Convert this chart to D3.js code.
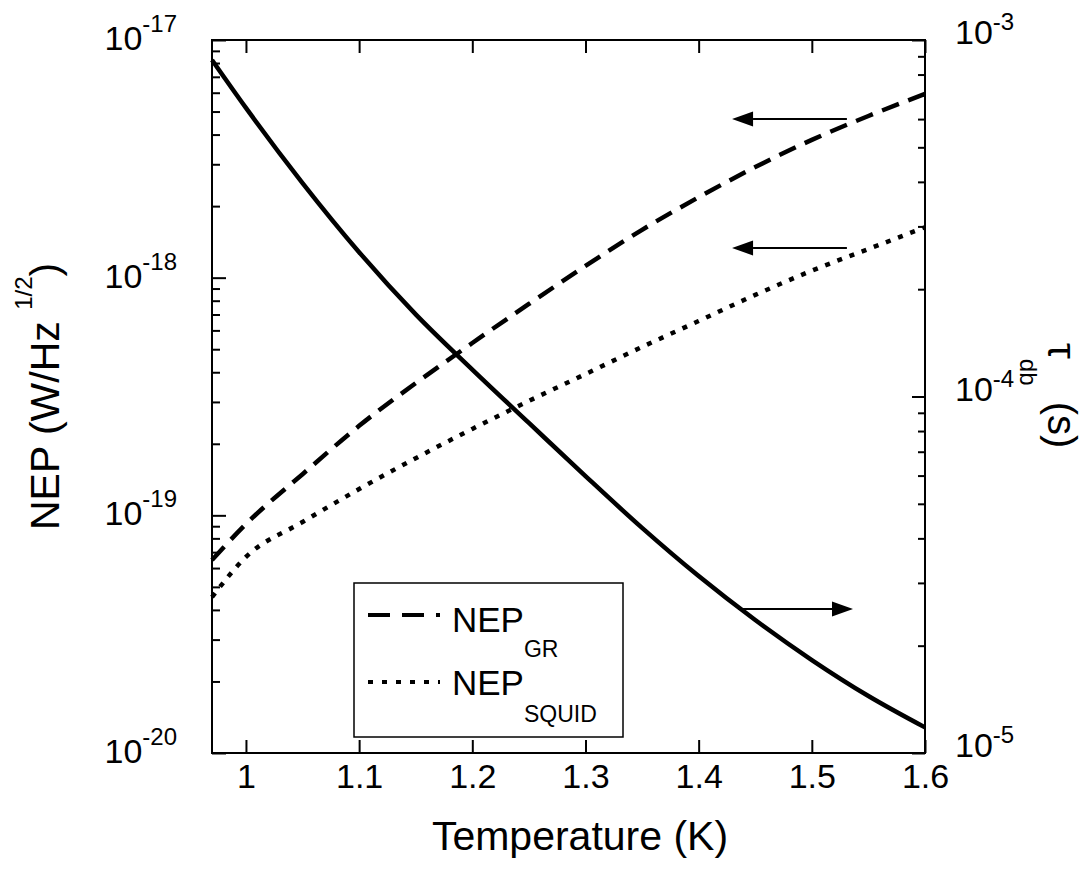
<!DOCTYPE html>
<html>
<head>
<meta charset="utf-8">
<script src="https://cdn.jsdelivr.net/npm/d3@7"></script>
<style>
body { margin: 0; background: #fff; }
svg { display: block; font-family: "Liberation Sans", Arial, sans-serif; }
text { white-space: pre; }
</style>
</head>
<body>
<script>
// values
const temps = [0.97, 1.00, 1.05, 1.10, 1.15, 1.20, 1.25, 1.30, 1.35, 1.40, 1.45, 1.50, 1.55, 1.60];
const nepGR = [6.49e-20, 9.19e-20, 1.49e-19, 2.38e-19, 3.6e-19, 5.31e-19, 7.75e-19, 1.12e-18, 1.59e-18, 2.18e-18, 2.92e-18, 3.8e-18, 4.79e-18, 5.93e-18];
const nepSquid = [4.53e-20, 6.68e-20, 9.37e-20, 1.29e-19, 1.74e-19, 2.31e-19, 3.03e-19, 3.93e-19, 5.11e-19, 6.57e-19, 8.46e-19, 1.07e-18, 1.32e-18, 1.63e-18];
const tauDb = [8.79e-4, 6.45e-4, 3.97e-4, 2.54e-4, 1.70e-4, 1.19e-4, 8.43e-5, 5.98e-5, 4.28e-5, 3.135e-5, 2.36e-5, 1.823e-5, 1.445e-5, 1.18e-5];

const xTicks = [1, 1.1, 1.2, 1.3, 1.4, 1.5, 1.6];
const leftTicks = [1e-20, 1e-19, 1e-18, 1e-17];
const rightTicks = [1e-5, 1e-4, 1e-3];

// arrows pointing at the axis each curve belongs to
const arrows = [
    { axis: "left", from: [1.531, 4.65e-18], to: [1.4295, 4.65e-18] },
    { axis: "left", from: [1.531, 1.333e-18], to: [1.4295, 1.333e-18] },
    { axis: "right", from: [1.4348, 2.535e-5], to: [1.5364, 2.535e-5] }
];

// create svg canvas
const canvWidth = 1086, canvHeight = 886;
const svg = d3.select("body").append("svg")
    .attr("width", canvWidth)
    .attr("height", canvHeight);

const margin = { top: 40, right: 161, bottom: 133, left: 212 };
const width = canvWidth - margin.left - margin.right;
const height = canvHeight - margin.top - margin.bottom;

const g = svg.append("g")
    .attr("transform", "translate(" + margin.left + "," + margin.top + ")");

// scales
const xScale = d3.scaleLinear().domain([0.97, 1.6]).range([0, width]);
const yLeft = d3.scaleLog().domain([1e-20, 1e-17]).range([height, 0]);
const yRight = d3.scaleLog().domain([1e-5, 1e-3]).range([height, 0]);

function minorTicks(decades) {
    const out = [];
    decades.forEach(e => { for (let m = 2; m <= 9; m++) out.push(m * Math.pow(10, e)); });
    return out;
}

function styleAxis(sel) {
    sel.select(".domain").remove();
    sel.selectAll(".tick line").attr("stroke", "#000").attr("stroke-width", 2);
    sel.selectAll("text").attr("fill", "#000");
}

// x axes (bottom with labels, top mirrored)
g.append("g")
    .attr("transform", "translate(0," + height + ")")
    .call(d3.axisBottom(xScale).tickValues(xTicks).tickSize(-13).tickPadding(11).tickFormat(d => d))
    .call(styleAxis)
    .selectAll("text")
    .attr("font-size", 34)
    .attr("font-family", "Liberation Sans, Arial, sans-serif");

g.append("g")
    .call(d3.axisTop(xScale).tickValues(xTicks).tickSize(-13).tickFormat(""))
    .call(styleAxis);

// left axis: majors and minors pointing inward
g.append("g")
    .call(d3.axisLeft(yLeft).tickValues(leftTicks).tickSize(-14).tickFormat(""))
    .call(styleAxis);
g.append("g")
    .call(d3.axisLeft(yLeft).tickValues(minorTicks([-20, -19, -18])).tickSize(-8).tickFormat(""))
    .call(styleAxis);

// right axis
g.append("g")
    .attr("transform", "translate(" + width + ",0)")
    .call(d3.axisRight(yRight).tickValues(rightTicks).tickSize(-13).tickFormat(""))
    .call(styleAxis);
g.append("g")
    .attr("transform", "translate(" + width + ",0)")
    .call(d3.axisRight(yRight).tickValues(minorTicks([-5, -4])).tickSize(-7).tickFormat(""))
    .call(styleAxis);

// frame
g.append("rect")
    .attr("width", width)
    .attr("height", height)
    .attr("fill", "none")
    .attr("stroke", "#000")
    .attr("stroke-width", 2);

// power-of-ten tick labels
function powerLabel(sel, exp, supDy) {
    sel.append("tspan").text("10");
    sel.append("tspan").attr("font-size", 24).attr("dy", supDy).text("-" + Math.abs(exp));
}
leftTicks.forEach(t => {
    const txt = g.append("text")
        .attr("x", -35)
        .attr("y", yLeft(t) + 10)
        .attr("font-size", 34)
        .attr("text-anchor", "end");
    powerLabel(txt, Math.round(Math.log10(t)), -18);
});
rightTicks.forEach(t => {
    const txt = g.append("text")
        .attr("x", width + 30)
        .attr("y", yRight(t) + 4)
        .attr("font-size", 34)
        .attr("text-anchor", "start");
    powerLabel(txt, Math.round(Math.log10(t)), -14);
});

// axis titles
svg.append("text")
    .attr("x", 580)
    .attr("y", 850)
    .attr("font-size", 41)
    .attr("text-anchor", "middle")
    .text("Temperature (K)");

const leftTitle = svg.append("text")
    .attr("transform", "translate(59,530) rotate(-90)")
    .attr("font-size", 41);
leftTitle.append("tspan").text("NEP (W/Hz ");
leftTitle.append("tspan").attr("font-size", 24).attr("dy", -27).text("1/2");
leftTitle.append("tspan").attr("dy", 27).text(")");

const rightTitle = svg.append("text")
    .attr("transform", "translate(1048,343) rotate(90)")
    .attr("font-size", 40);
rightTitle.append("tspan").text("\u03c4");
rightTitle.append("tspan").attr("font-size", 24).attr("dy", 28).text("db");
rightTitle.append("tspan").attr("dy", -28).attr("dx", 5).text(" (s)");

// curves
const rows = temps.map((t, i) => ({ t: t, gr: nepGR[i], sq: nepSquid[i], tau: tauDb[i] }));
const lineGR = d3.line().x(d => xScale(d.t)).y(d => yLeft(d.gr)).curve(d3.curveMonotoneX);
const lineSq = d3.line().x(d => xScale(d.t)).y(d => yLeft(d.sq)).curve(d3.curveMonotoneX);
const lineTau = d3.line().x(d => xScale(d.t)).y(d => yRight(d.tau)).curve(d3.curveMonotoneX);

g.append("path").datum(rows)
    .attr("d", lineGR)
    .attr("fill", "none").attr("stroke", "#000")
    .attr("stroke-width", 4.5)
    .attr("stroke-dasharray", "18,10");
g.append("path").datum(rows)
    .attr("d", lineSq)
    .attr("fill", "none").attr("stroke", "#000")
    .attr("stroke-width", 4.5)
    .attr("stroke-dasharray", "5,8");
g.append("path").datum(rows)
    .attr("d", lineTau)
    .attr("fill", "none").attr("stroke", "#000")
    .attr("stroke-width", 4.5);

// arrows
arrows.forEach(a => {
    const ys = a.axis === "left" ? yLeft : yRight;
    const x0 = xScale(a.from[0]), x1 = xScale(a.to[0]), y = ys(a.from[1]);
    const dir = Math.sign(x1 - x0), headLen = 21, half = 7.5;
    g.append("line")
        .attr("x1", x0).attr("y1", y)
        .attr("x2", x1 - dir * headLen).attr("y2", y)
        .attr("stroke", "#000").attr("stroke-width", 2);
    g.append("polygon")
        .attr("points", [[x1, y], [x1 - dir * headLen, y - half], [x1 - dir * headLen, y + half]].join(" "))
        .attr("fill", "#000");
});

// legend
const legend = svg.append("g");
legend.append("rect")
    .attr("x", 354).attr("y", 583)
    .attr("width", 269).attr("height", 154)
    .attr("fill", "#fff").attr("stroke", "#000").attr("stroke-width", 1.5);

const legendItems = [
    { name: "GR", dash: "22,12", y: 615, base: 632, subDy: 25 },
    { name: "SQUID", dash: "5,9", y: 682, base: 695, subDy: 27 }
];
legendItems.forEach(d => {
    legend.append("line")
        .attr("x1", 368).attr("x2", 440)
        .attr("y1", d.y).attr("y2", d.y)
        .attr("stroke", "#000").attr("stroke-width", 4)
        .attr("stroke-dasharray", d.dash);
    const txt = legend.append("text")
        .attr("x", 452).attr("y", d.base)
        .attr("font-size", 35);
    txt.append("tspan").text("NEP");
    txt.append("tspan").attr("font-size", 23).attr("dy", d.subDy).text(d.name);
});
</script>
</body>
</html>
